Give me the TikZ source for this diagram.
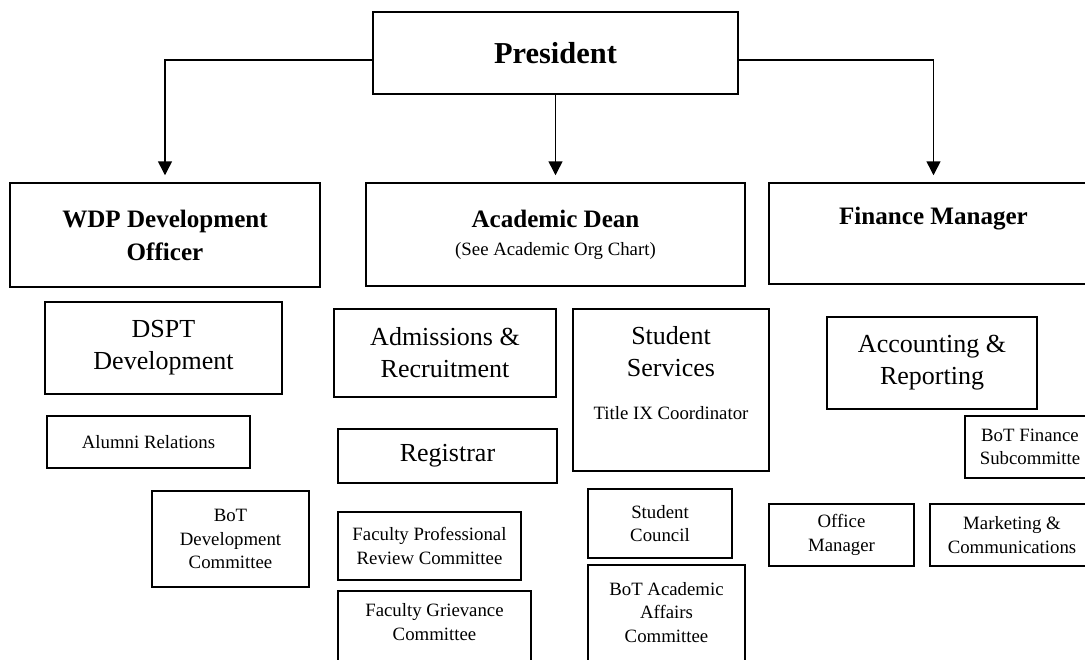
\documentclass[tikz,border=0pt]{standalone}
\usepackage{fontspec}
\setmainfont{Liberation Serif}
\usetikzlibrary{arrows.meta,positioning}

\tikzset{
	orgbox/.style={draw, line width=1.1pt, inner sep=0pt, align=center},
	boxtext/.style={inner sep=0pt, align=center},
	headfont/.style={font=\fontsize{18.8}{24.75}\selectfont\bfseries},
	unitfont/.style={font=\fontsize{19.5}{24}\selectfont},
	minorfont/.style={font=\fontsize{14.1}{17.5}\selectfont},
	headbox/.style={orgbox, headfont},
	unitbox/.style={orgbox, unitfont},
	minorbox/.style={orgbox, minorfont},
	link/.style={line width=1.1pt, -{Triangle[width=10.5pt,length=10.5pt]}, shorten >=5.25pt}
}

\begin{document}
\begin{tikzpicture}[x=0.75pt, y=-0.75pt]
		\useasboundingbox (0, 0) rectangle (1085, 660);
		\clip (0, 0) rectangle (1085, 660);

		\draw (555.5, 53) node[headbox, font=\fontsize{22.8}{26}\selectfont\bfseries, minimum width=273.75pt, minimum height=61.5pt] (pres) {President};

		\draw (165, 235) node[headbox, minimum width=232.5pt, minimum height=78pt] (wdp) {WDP Development\\Officer};
		\draw (555.5, 234.5) node[headbox, minimum width=284.25pt, minimum height=77.25pt] (dean) {Academic Dean\\[-3.75pt]{\fontsize{14.1}{17.5}\selectfont\mdseries (See Academic Org Chart)}};
		\draw (933.5, 233.5) node[orgbox, minimum width=246.75pt, minimum height=75.75pt] (fin) {};
		\node[boxtext, headfont, below=18.75pt of fin.north] (finlabel) {Finance Manager};

		\draw[link] ([yshift=-5.25pt]pres.west) -| (wdp.north);
		\draw[link] (pres) -- (dean);
		\draw[link] ([yshift=-5.25pt]pres.east) -| (fin.north);


		\draw (163.5, 348) node[unitbox, minimum width=177.75pt, minimum height=69pt] (dspt) {DSPT\\Development};
		\draw (148.5, 442) node[minorbox, minimum width=152.25pt, minimum height=39pt] (alumni) {Alumni Relations};
		\draw (230.5, 539) node[minorbox, minimum width=117.75pt, minimum height=72pt] (botdev) {BoT\\Development\\Committee};

		\draw (445, 353) node[unitbox, minimum width=166.5pt, minimum height=66pt] (adm) {Admissions \&\\Recruitment};
		\draw (447.5, 456) node[unitbox, minimum width=164.25pt, minimum height=40.5pt] (reg) {Registrar};
		\draw (429.5, 546) node[minorbox, minimum width=137.25pt, minimum height=51pt] (facrev) {Faculty Professional\\Review Committee};
		\draw (434.5, 635.5) node[orgbox, minimum width=144.75pt, minimum height=66.75pt] (facgr) {};
		\node[boxtext, minorfont, below=10pt of facgr.north] (facgrlabel) {Faculty Grievance\\Committee};

		\draw (671, 390) node[orgbox, minimum width=147pt, minimum height=121.5pt] (stusvc) {};
		\node[boxtext, unitfont, below=13.5pt of stusvc.north] (stusvclabel) {Student\\Services};
		\node[boxtext, minorfont, below=21.75pt of stusvclabel] (titleix) {Title IX Coordinator};
		\draw (660, 523.5) node[minorbox, minimum width=108pt, minimum height=51.75pt] (council) {Student\\Council};
		\draw (666.5, 627.5) node[orgbox, minimum width=117.75pt, minimum height=93.75pt] (botacad) {};
		\node[boxtext, minorfont, below=13.5pt of botacad.north] (botacadlabel) {BoT Academic\\Affairs\\Committee};

		\draw (932, 363) node[unitbox, minimum width=157.5pt, minimum height=69pt] (acct) {Accounting \&\\Reporting};
		\draw (1030, 447) node[minorbox, minimum width=97.5pt, minimum height=46.5pt] (botfin) {BoT Finance\\Subcommitte};
		\draw (841.5, 535) node[minorbox, minimum width=108.75pt, minimum height=46.5pt] (office) {Office\\Manager};
		\draw (1012, 535) node[minorbox, minimum width=123pt, minimum height=46.5pt] (mkt) {Marketing \&\\Communications};

	\end{tikzpicture}
\end{document}
